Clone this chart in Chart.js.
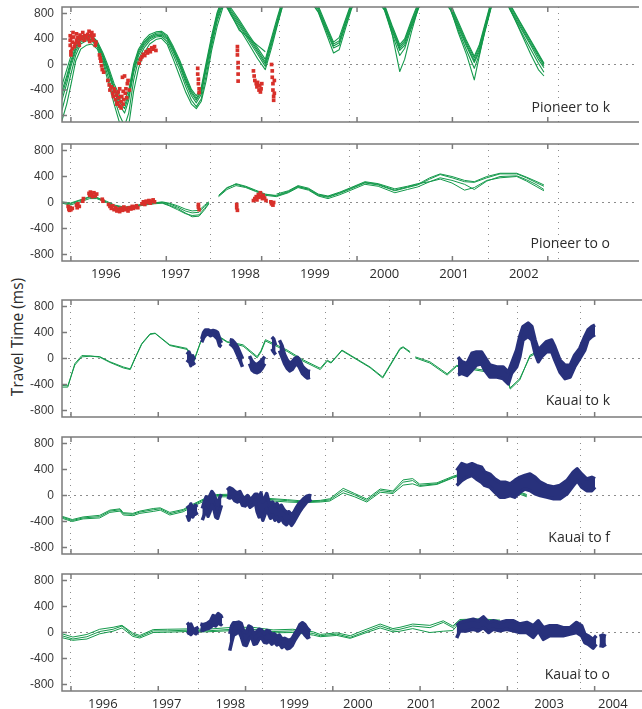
<!DOCTYPE html>
<html>
<head>
<meta charset="utf-8">
<title>Travel Time</title>
<script src="https://cdn.jsdelivr.net/npm/chart.js@4.4.1/dist/chart.umd.min.js"></script>
<style>
  html, body { margin: 0; padding: 0; background: #fff; }
  body { position: relative; width: 642px; height: 709px; overflow: hidden; font-family: "Open Sans", sans-serif; color: #2b2b2b; }
  .panel { position: absolute; left: 0; }
  .tag { position: absolute; right: 32px; font-size: 14px; line-height: 1; white-space: nowrap; }
  #ytitle { position: absolute; left: 17px; top: 337px; transform: translate(-50%, -50%) rotate(-90deg); font-size: 15.5px; white-space: nowrap; }
</style>
</head>
<body>
<div id="ytitle">Travel Time (ms)</div>

<canvas id="pk" class="panel" width="642" height="125" style="top:1px"></canvas>
<canvas id="po" class="panel" width="642" height="145" style="top:138px"></canvas>
<canvas id="kk" class="panel" width="642" height="125" style="top:294px"></canvas>
<canvas id="kf" class="panel" width="642" height="125" style="top:431px"></canvas>
<canvas id="ko" class="panel" width="642" height="141" style="top:568px"></canvas>

<div class="tag" style="top:100px">Pioneer to k</div>
<div class="tag" style="top:236px">Pioneer to o</div>
<div class="tag" style="top:393px">Kauai to k</div>
<div class="tag" style="top:530px">Kauai to f</div>
<div class="tag" style="top:667px">Kauai to o</div>

<script>
// ---- axes ----
const yTicks = [-800, -400, 0, 400, 800];
const pioneerGridYears = [1996, 1997, 1998, 1999, 2000, 2001, 2002, 2003];
const pioneerLabelYears = [1996, 1997, 1998, 1999, 2000, 2001, 2002];
const kauaiGridYears = [1996, 1997, 1998, 1999, 2000, 2001, 2002, 2003, 2004];
const kauaiLabelYears = [1996, 1997, 1998, 1999, 2000, 2001, 2002, 2003, 2004];
// tick marks every 500 days
const tickMarkYears = [1996.0, 1997.369, 1998.738, 2000.107, 2001.476, 2002.845, 2004.214];

// ---- Pioneer to k ----
const pkYears = [
  1995.87, 1995.94, 1996.00, 1996.07, 1996.14, 1996.22, 1996.30, 1996.38, 1996.46, 1996.54,
  1996.62, 1996.70, 1996.77, 1996.83, 1996.90, 1996.97, 1997.05, 1997.13, 1997.22, 1997.30,
  1997.38, 1997.47, 1997.56, 1997.65, 1997.73, 1997.80, 1997.87, 1997.94, 1998.02, 1998.10,
  1998.20, 1998.30, 1998.42, 1998.55, 1998.68, 1998.79, 1998.88, 1998.96, 1999.05, 1999.30,
  1999.55, 1999.66, 1999.77, 1999.85, 1999.94, 2000.03, 2000.27, 2000.50, 2000.61, 2000.72,
  2000.79, 2000.89, 2000.99, 2001.22, 2001.45, 2001.56, 2001.68, 2001.79, 2001.86, 2001.94,
  2002.03, 2002.17, 2002.31, 2002.45, 2002.60, 2002.71, 2002.79
];
const pkLineA = [
  -420, -180, 60, 280, 400, 440, 430, 340, 150, -80,
  -350, -550, -640, -460, -40, 210, 350, 440, 490, 500,
  440, 250, 40, -220, -420, -530, -400, -20, 410, 790,
  1080, 850, 660, 440, 225, 40, 380, 690, 1030, 1200,
  890, 600, 320, 370, 670, 960, 1200, 920, 585, 280,
  370, 670, 950, 1200, 920, 640, 340, 100, 270, 590,
  960, 1150, 910, 645, 360, 150, 10
];
const pkLineB = [
  -560, -300, -30, 210, 350, 400, 390, 300, 110, -140,
  -420, -640, -760, -560, -130, 140, 300, 400, 450, 460,
  400, 200, -20, -290, -490, -600, -470, -90, 340, 720,
  1020, 790, 600, 380, 160, -30, 310, 620, 970, 1200,
  830, 540, 260, 300, 610, 900, 1200, 860, 525, 220,
  300, 610, 890, 1200, 860, 580, 280, 30, 190, 530,
  900, 1150, 850, 585, 300, 80, -50
];
const pkLineC = [
  -480, -230, 20, 250, 380, 420, 410, 320, 130, -110,
  -380, -590, -690, -500, -80, 180, 330, 420, 470, 480,
  420, 230, 10, -250, -450, -560, -430, -50, 380, 760,
  1050, 820, 630, 410, 195, 10, 350, 660, 1000, 1200,
  860, 570, 290, 340, 640, 930, 1200, 890, 555, 250,
  340, 640, 920, 1200, 890, 610, 310, 60, 230, 560,
  930, 1150, 880, 615, 330, 120, -20
];
const pkLineD = [
  -720, -430, -150, 150, 320, 370, 370, 270, 70, -210,
  -520, -800, -960, -760, -250, 80, 260, 370, 430, 440,
  360, 150, -80, -350, -560, -660, -540, -180, 290, 680,
  1000, 770, 560, 330, 90, -80, 260, 600, 960, 1200,
  820, 500, 180, 230, 560, 880, 1200, 850, 480, 140,
  250, 580, 880, 1200, 850, 540, 220, -60, 150, 500,
  880, 1150, 840, 540, 240, 20, -120
];
const pkLineE = [
  -330, -80, 130, 320, 440, 470, 450, 360, 180, -40,
  -300, -490, -570, -400, 0, 240, 380, 470, 510, 520,
  460, 280, 70, -180, -390, -490, -360, 20, 450, 820,
  1100, 880, 690, 470, 260, 80, 420, 730, 1050, 1200,
  920, 630, 350, 420, 700, 980, 1200, 940, 610, 310,
  400, 700, 980, 1200, 940, 670, 370, 130, 300, 620,
  980, 1150, 930, 660, 380, 170, 20
];
const pkLineF = [
  -880, -620, -320, 60, 240, 300, 320, 240, 30, -290,
  -620, -920, -1100, -950, -420, -60, 180, 320, 390, 410,
  320, 80, -180, -440, -620, -690, -580, -260, 220, 600,
  960, 780, 530, 420, 300, 200, null, null, null, null,
  null, null, null, null, null, null, null, 900, 480, -110,
  80, 520, 900, null, 870, 500, 150, -240, 120, 520,
  900, null, 860, 520, 160, -80, -180
];
const pkRed = [
  [1995.99, 450], [1995.99, 380], [1995.99, 300], [1996.0, 200], [1996.0, 150], [1996.01, 420], [1996.02, 350],
  [1996.03, 500], [1996.04, 430], [1996.05, 280], [1996.06, 330], [1996.08, 380], [1996.08, 480], [1996.1, 420],
  [1996.11, 350], [1996.13, 460], [1996.14, 400], [1996.16, 430], [1996.17, 500], [1996.19, 380], [1996.2, 450],
  [1996.22, 420], [1996.24, 470], [1996.25, 400], [1996.26, 520], [1996.27, 360], [1996.28, 450], [1996.3, 500],
  [1996.31, 420], [1996.32, 380], [1996.33, 460], [1996.35, 300], [1996.36, 350], [1996.02, 250], [1996.12, 300],
  [1996.41, 150], [1996.42, 100], [1996.43, 50], [1996.44, -20], [1996.45, -80], [1996.47, -120],
  [1996.53, -250], [1996.55, -320], [1996.56, -400], [1996.58, -350], [1996.6, -450], [1996.61, -500],
  [1996.63, -420], [1996.64, -550], [1996.66, -480], [1996.67, -600], [1996.69, -520], [1996.7, -650],
  [1996.72, -580], [1996.73, -500], [1996.75, -620], [1996.76, -550], [1996.78, -450], [1996.79, -380],
  [1996.81, -300], [1996.82, -250], [1996.84, -400], [1996.7, -380], [1996.75, -420], [1996.74, -200],
  [1996.77, -180], [1996.8, -520], [1996.66, -620], [1996.72, -680], [1996.62, -380], [1996.68, -430],
  [1996.98, 20], [1997.0, 80], [1997.02, 120], [1997.04, 160], [1997.06, 140], [1997.08, 200], [1997.1, 180],
  [1997.12, 230], [1997.14, 200], [1997.16, 260], [1997.18, 240], [1997.2, 280], [1997.22, 220],
  [1997.82, -60], [1997.82, -150], [1997.83, -230], [1997.83, -300], [1997.84, -380], [1997.84, -440],
  [1998.39, 280], [1998.39, 220], [1998.39, 150], [1998.4, 30], [1998.4, -50], [1998.4, -150], [1998.4, -260],
  [1998.62, -100], [1998.63, -180], [1998.64, -250], [1998.66, -300], [1998.67, -350], [1998.68, -280],
  [1998.7, -400], [1998.71, -330], [1998.72, -430], [1998.73, -380], [1998.74, -300],
  [1998.88, 0], [1998.89, -100], [1998.89, -200], [1998.9, -300], [1998.9, -400], [1998.91, -500],
  [1998.91, -560], [1998.92, -250], [1998.92, -450]
];

// ---- Pioneer to o ----
const poYears = [
  1995.87, 1995.99, 1996.13, 1996.27, 1996.37, 1996.51, 1996.63, 1996.77, 1996.91, 1997.05,
  1997.2, 1997.31, 1997.41, 1997.53, 1997.64, 1997.74, 1997.84, 1997.92, 1997.98, 1998.05,
  1998.12, 1998.24, 1998.37, 1998.51, 1998.65, 1998.79, 1998.95, 1999.12, 1999.26, 1999.41,
  1999.55, 1999.69, 1999.86, 2000.02, 2000.22, 2000.41, 2000.65, 2000.83, 2000.98, 2001.15,
  2001.3, 2001.47, 2001.65, 2001.79, 2001.97, 2002.16, 2002.4, 2002.54, 2002.69, 2002.79
];
const poLineA = [
  0, -20, 30, 80, 70, 10, -50, -80, -60, -30,
  -10, 0, -20, -70, -130, -160, -150, -60, 0, null,
  110, 230, 280, 240, 180, 120, 110, 170, 250, 200,
  110, 80, 140, 210, 300, 270, 180, 230, 270, 360,
  430, 380, 320, 310, 380, 440, 440, 380, 300, 250
];
const poLineB = [
  -10, -40, 10, 60, 60, 0, -60, -90, -70, -40,
  -20, -10, -50, -110, -170, -200, -190, -90, -10, null,
  90, 200, 260, 230, 170, 110, 90, 150, 230, 190,
  100, 60, 120, 190, 280, 250, 150, 200, 240, 320,
  380, 340, 280, 200, 330, 400, 410, 350, 270, 200
];
const poLineC = [
  10, -10, 40, 90, 80, 20, -40, -70, -50, -20,
  0, -5, -40, -90, -160, -220, -210, -110, -20, null,
  100, 220, 290, 250, 190, 130, 100, 160, 240, 210,
  120, 90, 150, 220, 310, 280, 190, 240, 280, 380,
  440, 400, 340, 320, 400, 450, 450, 390, 320, 270
];
const poLineD = [
  null, null, null, null, null, null, null, null, null, null,
  -5, 10, -10, -50, -100, -130, -120, -40, 10, null,
  null, null, null, null, null, null, 130, 180, 260, 220,
  130, 100, 160, 230, 320, 290, 210, 250, 290, 320,
  360, 300, 190, 230, 340, 380, 400, 330, 240, 180
];
const poRed = [
  [1995.96, -60], [1995.97, -100], [1995.98, -120], [1995.99, -80], [1996.0, -110], [1996.02, -90],
  [1996.08, -40], [1996.09, -80], [1996.1, -20], [1996.12, -60], [1996.17, 20], [1996.18, 60],
  [1996.26, 140], [1996.27, 110], [1996.28, 160], [1996.3, 120], [1996.31, 90], [1996.33, 150],
  [1996.35, 100], [1996.37, 130], [1996.45, 50], [1996.46, 20],
  [1996.54, -30], [1996.56, -60], [1996.58, -90], [1996.6, -50], [1996.62, -110], [1996.64, -80],
  [1996.66, -130], [1996.68, -100], [1996.7, -140], [1996.72, -90], [1996.74, -120], [1996.76, -70],
  [1996.78, -110], [1996.8, -90], [1996.82, -130], [1996.84, -80], [1996.86, -100], [1996.88, -60],
  [1996.9, -90], [1996.92, -70], [1996.94, -50], [1996.96, -80],
  [1997.02, -20], [1997.04, 10], [1997.06, -30], [1997.08, 20], [1997.1, 0], [1997.12, 30],
  [1997.14, -10], [1997.16, 20], [1997.18, 40], [1997.2, 10],
  [1997.83, -30], [1997.83, -70], [1997.84, -110],
  [1998.38, -30], [1998.38, -80], [1998.39, -120],
  [1998.62, 30], [1998.64, 60], [1998.66, 90], [1998.67, 40], [1998.69, 120], [1998.7, 80],
  [1998.72, 150], [1998.73, 100], [1998.75, 60], [1998.76, 110], [1998.78, 70], [1998.8, 30],
  [1998.87, 10], [1998.88, -20], [1998.9, -40], [1998.91, 0]
];

// ---- Kauai to k ----
const kkYears = [
  1995.86, 1995.95, 1996.06, 1996.17, 1996.3, 1996.45, 1996.61, 1996.82, 1996.93, 1997.0,
  1997.11, 1997.24, 1997.32, 1997.55, 1997.82, 1997.93, 1998.03, 1998.13, 1998.18, 1998.45,
  1998.7, 1998.92, 1998.98, 1999.05, 1999.39, 1999.64, 1999.91, 2000.02, 2000.08, 2000.25,
  2000.69, 2000.89, 2001.16, 2001.21, 2001.32, 2001.36, 2001.4, 2001.63, 2001.9, 2002.05,
  2002.3, 2002.6, 2002.8, 2002.89, 2003.04, 2003.2, 2003.3
];
const kkLineA = [
  -415, -420, -100, 25, 35, 30, -50, -130, -160, 0,
  230, 380, 390, 210, 155, -25, 250, 410, 430, 260,
  210, 30, 120, 290, 130, -20, -150, -25, -60, 130,
  -130, -285, 155, 180, 105, null, 25, -50, -235, -105,
  -150, -200, -180, -470, -330, 50, 100
];
const kkLineB = [
  -440, -440, -80, 45, 40, 20, -60, -145, -170, -10,
  220, 370, 385, 200, 140, -40, 240, 400, 420, 250,
  190, 10, 100, 270, 110, -40, -170, -40, -70, 120,
  -140, -300, 140, 170, 90, null, 10, -70, -255, -120,
  -170, -220, -200, -450, -310, 30, 80
];
// [year, low, high]
const kkBlue = [
  [[1997.82, -60, 60], [1997.85, -20, 100], [1997.88, -110, 30], [1997.91, -60, 40], [1997.94, -100, -20]],
  [[1998.05, 250, 300], [1998.08, 320, 400], [1998.11, 360, 440], [1998.15, 380, 440], [1998.19, 350, 420],
   [1998.23, 370, 430], [1998.27, 330, 420], [1998.3, 300, 400], [1998.33, 200, 310], [1998.36, 180, 240]],
  [[1998.49, 230, 290], [1998.53, 200, 280], [1998.57, 150, 240], [1998.61, 60, 180], [1998.65, -30, 90], [1998.69, -130, 0]],
  [[1998.8, -80, 40], [1998.84, -180, -40], [1998.88, -210, -80], [1998.92, -220, -90], [1998.96, -200, -60],
   [1999.0, -150, -20], [1999.04, -80, 30]],
  [[1999.15, 150, 330], [1999.18, 100, 300], [1999.21, 60, 200]],
  [[1999.27, 120, 280], [1999.31, 20, 200], [1999.35, -80, 60], [1999.39, -150, -20], [1999.43, -190, -70],
   [1999.47, -170, -50], [1999.51, -110, 0], [1999.55, -80, 20], [1999.59, -150, -30], [1999.63, -230, -120],
   [1999.67, -270, -160], [1999.71, -300, -190], [1999.75, -290, -200]],
  [[2002.07, -250, 20], [2002.13, -230, -50], [2002.21, -260, -80], [2002.29, -180, 80], [2002.36, -100, 100],
   [2002.44, -80, 100], [2002.49, -180, 25], [2002.57, -285, -100], [2002.68, -285, -130], [2002.78, -310, -130],
   [2002.86, -390, -210], [2002.91, -230, -80], [2002.99, -130, 130], [2003.04, 25, 340], [2003.09, 285, 490],
   [2003.17, 340, 545], [2003.23, 285, 490], [2003.28, 80, 285], [2003.33, -50, 130], [2003.38, 25, 180],
   [2003.46, 105, 260], [2003.54, 105, 285], [2003.59, -25, 180], [2003.67, -210, -25], [2003.75, -310, -105],
   [2003.83, -285, -105], [2003.9, -130, 50], [2003.98, 0, 155], [2004.06, 130, 340], [2004.11, 285, 440],
   [2004.17, 340, 490], [2004.22, 365, 515]]
];

// ---- Kauai to f ----
const kfYears = [
  1995.86, 1996.02, 1996.19, 1996.45, 1996.61, 1996.77, 1996.82, 1996.97, 1997.08, 1997.29,
  1997.4, 1997.55, 1997.76, 1997.91, 1998.1, 1998.29, 1998.54, 1998.85, 1999.1, 1999.4,
  1999.65, 1999.91, 2000.06, 2000.27, 2000.45, 2000.64, 2000.85, 2001.05, 2001.21, 2001.36,
  2001.47, 2001.74, 2001.99, 2002.3, 2002.6, 2002.8, 2002.93, 2003.15
];
const kfLineA = [
  -333, -385, -345, -325, -240, -220, -280, -290, -255, -220,
  -205, -280, -230, -150, -60, 0, 0, -50, -60, -80,
  -100, -87, -67, 77, 10, -77, 77, 50, 205, 230,
  154, 180, 280, 380, 150, 50, 77, 0
];
const kfLineB = [
  -350, -400, -360, -345, -260, -240, -300, -310, -275, -245,
  -225, -300, -250, -170, -80, -20, -20, -70, -80, -100,
  -110, -100, -85, 40, -20, -100, 50, 30, 160, 180,
  140, 170, 270, 370, 140, 40, 60, -20
];
const kfLineC = [
  -320, -370, -330, -305, -225, -205, -265, -275, -240, -200,
  -190, -260, -215, -135, -45, 15, 20, -35, -45, -65,
  -85, -75, -50, 110, 30, -55, 100, 70, 240, 260,
  175, 195, 295, 390, 160, 60, 90, 15
];
const kfBlue = [
  [[1997.82, -300, -160], [1997.85, -380, -200], [1997.88, -260, -130], [1997.91, -330, -200], [1997.95, -250, -150], [1997.98, -300, -180]],
  [[1998.06, -380, -200], [1998.09, -300, -100], [1998.12, -200, -20], [1998.15, -320, -60], [1998.18, -250, 0],
   [1998.21, -150, 60], [1998.24, -200, 20], [1998.27, -330, -60], [1998.3, -350, -150], [1998.33, -250, -40], [1998.36, -150, 20]],
  [[1998.45, -20, 80], [1998.49, -40, 120], [1998.53, -20, 100], [1998.57, -80, 60], [1998.61, -100, 40], [1998.65, -60, 60],
   [1998.69, -150, -20], [1998.73, -160, -40], [1998.77, -120, 0], [1998.81, -180, -60], [1998.85, -150, -30], [1998.89, -100, 20],
   [1998.92, -250, 20], [1998.95, -330, -60], [1998.98, -280, 40], [1999.01, -380, -100], [1999.04, -300, -40], [1999.07, -200, 30],
   [1999.1, -280, -80], [1999.13, -350, -150], [1999.16, -300, -100], [1999.2, -380, -160], [1999.23, -330, -120],
   [1999.26, -400, -180], [1999.3, -350, -150], [1999.34, -420, -220], [1999.38, -450, -260], [1999.42, -400, -250],
   [1999.46, -460, -300], [1999.5, -400, -250], [1999.54, -330, -180], [1999.58, -260, -120], [1999.62, -200, -80],
   [1999.66, -150, -40], [1999.7, -100, -10], [1999.74, -80, 0], [1999.77, -60, -10]],
  [[2002.05, 155, 385], [2002.13, 230, 490], [2002.21, 280, 460], [2002.29, 310, 490], [2002.36, 255, 460],
   [2002.44, 205, 435], [2002.49, 155, 360], [2002.57, 130, 330], [2002.65, 50, 255], [2002.73, -25, 205],
   [2002.81, -25, 205], [2002.89, 0, 180], [2002.96, -25, 230], [2003.04, 50, 280], [2003.12, 100, 310],
   [2003.2, 75, 330], [2003.28, 25, 280], [2003.36, 0, 205], [2003.46, -25, 155], [2003.57, -50, 130],
   [2003.67, -50, 155], [2003.78, 25, 230], [2003.88, 155, 360], [2003.94, 230, 410], [2004.01, 130, 330],
   [2004.09, 75, 255], [2004.17, 75, 280], [2004.22, 130, 255]]
];

// ---- Kauai to o ----
const koYears = [
  1995.86, 1996.03, 1996.25, 1996.45, 1996.66, 1996.8, 1996.97, 1997.08, 1997.29, 1997.51,
  1997.82, 1998.13, 1998.54, 1998.85, 1999.17, 1999.48, 1999.8, 1999.91, 2000.17, 2000.38,
  2000.58, 2000.85, 2001.05, 2001.16, 2001.36, 2001.63, 2001.84, 2001.99, 2002.1, 2002.42,
  2002.73
];
const koLineA = [
  -50, -100, -65, 15, 50, 100, -35, -65, 25, 25,
  35, 25, 50, 50, 15, 25, -15, -50, -25, -75,
  0, 100, 35, 50, 100, 75, 155, 75, 180, 180,
  170
];
const koLineB = [
  -80, -120, -100, -20, 20, 70, -60, -85, 0, 5,
  15, 10, 30, 20, -5, 0, -40, -65, -45, -90,
  -20, 70, 10, 20, 60, 0, 20, 30, 160, 160,
  150
];
const koLineC = [
  -20, -70, -30, 50, 80, 110, -10, -45, 45, 50,
  55, 50, 80, 80, 40, 50, 10, -30, -5, -50,
  30, 130, 60, 80, 130, 110, 180, 100, 200, 210,
  190
];
const koBlue = [
  [[1997.82, -20, 150], [1997.85, 0, 120], [1997.88, -30, 130], [1997.92, 10, 40], [1997.96, -20, 60], [1998.0, 20, 80]],
  [[1998.03, 40, 130], [1998.07, 30, 120], [1998.11, 50, 130], [1998.15, 60, 150], [1998.19, 80, 180],
   [1998.23, 120, 260], [1998.27, 100, 240], [1998.31, 150, 290], [1998.35, 120, 260], [1998.37, 140, 220]],
  [[1998.49, -280, -20], [1998.52, -150, 100], [1998.55, -40, 150], [1998.59, -20, 150], [1998.63, 20, 160],
   [1998.67, -60, 140], [1998.71, -190, 20], [1998.75, -200, 0], [1998.79, -100, 100], [1998.83, -60, 80],
   [1998.87, -180, -20], [1998.91, -170, 10], [1998.95, -100, 50], [1998.99, -80, 40], [1999.03, -150, -20],
   [1999.07, -160, 30], [1999.11, -130, 20], [1999.15, -180, -30], [1999.19, -140, -20], [1999.23, -190, -60],
   [1999.27, -170, -40], [1999.31, -230, -100], [1999.35, -200, -90], [1999.39, -250, -110], [1999.43, -240, -120],
   [1999.47, -200, -90], [1999.51, -120, -20], [1999.55, -60, 40], [1999.59, 0, 120], [1999.63, 20, 150],
   [1999.67, -40, 120], [1999.71, -80, 60], [1999.75, -60, 20]],
  [[2002.05, -85, 105], [2002.1, 25, 155], [2002.21, 25, 180], [2002.31, 50, 205], [2002.39, 25, 180],
   [2002.47, 75, 240], [2002.55, 0, 155], [2002.62, 50, 180], [2002.73, 25, 155], [2002.83, 50, 180],
   [2002.94, 25, 180], [2003.04, 0, 130], [2003.15, 0, 155], [2003.25, -75, 105], [2003.33, 25, 180],
   [2003.41, -105, 75], [2003.51, -50, 105], [2003.62, -50, 105], [2003.72, -50, 75], [2003.83, -25, 75],
   [2003.93, 0, 155], [2004.01, -50, 105], [2004.06, -155, -25], [2004.11, -180, -50], [2004.19, -240, -105],
   [2004.24, -180, -50]],
  [[2004.29, -200, -60], [2004.34, -210, -40], [2004.39, -180, -60]]
];

// ---- drawing ----
const GREEN = '#14994b';
const RED = '#d8302a';
const NAVY = '#28317c';
const FRAME = '#7b7b7b';
const DOTS = '#8c8c8c';

const insideTicks = {
  id: 'insideTicks',
  afterDatasetsDraw(chart, args, opts) {
    const { ctx, chartArea: a, scales } = chart;
    ctx.save();
    ctx.strokeStyle = FRAME;
    ctx.lineWidth = 1.5;
    ctx.beginPath();
    ctx.moveTo(a.right + 1, a.top);
    ctx.lineTo(a.left, a.top);
    ctx.lineTo(a.left, a.bottom);
    ctx.lineTo(a.right + 1, a.bottom);
    yTicks.forEach(v => {
      const py = scales.y.getPixelForValue(v);
      ctx.moveTo(a.left, py);
      ctx.lineTo(a.left + 5, py);
    });
    opts.marks.forEach(v => {
      const px = scales.x.getPixelForValue(v);
      if (px > a.right) return;
      ctx.moveTo(px, a.bottom);
      ctx.lineTo(px, a.bottom - 5);
      ctx.moveTo(px, a.top);
      ctx.lineTo(px, a.top + 5);
    });
    ctx.stroke();
    ctx.restore();
  }
};

function greenLines(xs, lines, width) {
  return lines.map(ys => ({
    data: xs.map((x, i) => ({ x: x, y: ys[i] })),
    borderColor: GREEN,
    borderWidth: width,
    pointRadius: 0,
    fill: false,
    clip: 0,
    order: 2
  }));
}

function redDots(pairs) {
  return {
    data: pairs.map(p => ({ x: p[0], y: p[1] })),
    showLine: false,
    pointStyle: 'rect',
    pointRadius: 2.6,
    pointBackgroundColor: RED,
    pointBorderWidth: 0,
    clip: 0,
    order: 1
  };
}

function blueBands(segments) {
  const out = [];
  segments.forEach(seg => {
    out.push({
      data: seg.map(r => ({ x: r[0], y: r[2] })),
      borderColor: NAVY, borderWidth: 3.5, pointRadius: 0, fill: false, clip: 0, order: 0
    });
    out.push({
      data: seg.map(r => ({ x: r[0], y: r[1] })),
      borderColor: NAVY, borderWidth: 3.5, pointRadius: 0, fill: '-1', backgroundColor: NAVY, clip: 0, order: 0
    });
  });
  return out;
}

function makePanel(id, cfg) {
  new Chart(document.getElementById(id), {
    type: 'line',
    data: { datasets: cfg.datasets },
    options: {
      responsive: false,
      animation: false,
      events: [],
      spanGaps: false,
      layout: { padding: { top: 6, right: 0, bottom: 0, left: 0 } },
      elements: { line: { tension: 0, borderJoinStyle: 'round' }, point: { radius: 0 } },
      plugins: {
        legend: { display: false },
        tooltip: { enabled: false },
        insideTicks: { marks: cfg.marks }
      },
      scales: {
        x: {
          type: 'linear',
          min: cfg.xMin,
          max: cfg.xMax,
          afterBuildTicks: s => {
            s.ticks = cfg.gridYears.flatMap(y => [{ value: y }, { value: y + 0.5 }]).filter(t => t.value <= cfg.xMax);
          },
          afterFit: s => { s.height = cfg.axisH; s.paddingLeft = 0; s.paddingRight = 0; },
          grid: {
            color: c => Number.isInteger(c.tick.value) ? DOTS : 'rgba(0,0,0,0)',
            lineWidth: 1,
            drawTicks: false
          },
          border: { display: false, dash: [1, 5] },
          ticks: {
            display: cfg.showYears,
            autoSkip: false,
            maxRotation: 0,
            padding: 5,
            color: '#2b2b2b',
            font: { family: 'Open Sans', size: 13 },
            callback: v => cfg.labelYears.includes(v - 0.5) ? String(v - 0.5) : ''
          }
        },
        y: {
          min: -900,
          max: 900,
          afterBuildTicks: s => { s.ticks = yTicks.map(v => ({ value: v })); },
          afterFit: s => { s.width = 62; s.paddingTop = 0; s.paddingBottom = 0; },
          grid: {
            color: c => c.tick.value === 0 ? DOTS : 'rgba(0,0,0,0)',
            lineWidth: 1,
            drawTicks: false
          },
          border: { display: false, dash: [2, 4] },
          ticks: { padding: 8, color: '#3a3a3a', font: { family: 'Liberation Sans', size: 12 } }
        }
      }
    },
    plugins: [insideTicks]
  });
}

const pioneerX = { xMin: 1995.872, xMax: 2004.14, gridYears: pioneerGridYears, labelYears: pioneerLabelYears, marks: tickMarkYears };
const kauaiX = { xMin: 1995.859, xMax: 2004.957, gridYears: kauaiGridYears, labelYears: kauaiLabelYears, marks: tickMarkYears };

makePanel('pk', Object.assign({}, pioneerX, {
  axisH: 2, showYears: false,
  datasets: [redDots(pkRed)].concat(greenLines(pkYears, [pkLineA, pkLineB, pkLineC, pkLineD, pkLineE, pkLineF], 1.1))
}));
makePanel('po', Object.assign({}, pioneerX, {
  axisH: 22, showYears: true,
  datasets: [redDots(poRed)].concat(greenLines(poYears, [poLineA, poLineB, poLineC, poLineD], 1))
}));
makePanel('kk', Object.assign({}, kauaiX, {
  axisH: 2, showYears: false,
  datasets: blueBands(kkBlue).concat(greenLines(kkYears, [kkLineA, kkLineB], 1))
}));
makePanel('kf', Object.assign({}, kauaiX, {
  axisH: 2, showYears: false,
  datasets: blueBands(kfBlue).concat(greenLines(kfYears, [kfLineA, kfLineB, kfLineC], 1))
}));
makePanel('ko', Object.assign({}, kauaiX, {
  axisH: 18, showYears: true,
  datasets: blueBands(koBlue).concat(greenLines(koYears, [koLineA, koLineB, koLineC], 1))
}));
</script>
</body>
</html>
